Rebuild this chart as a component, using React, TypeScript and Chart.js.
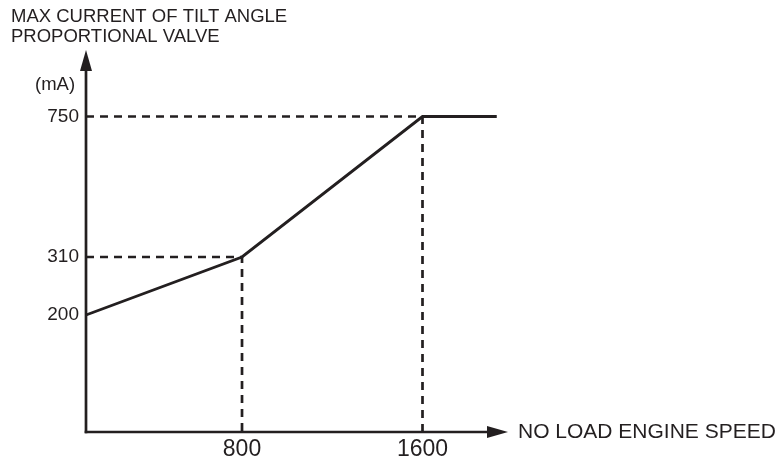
import React, { useEffect, useRef } from 'react';
import { Chart, registerables, LinearScale } from 'chart.js';

// ---- data ----
const speedPoints = [0, 800, 1600, 1930]; // no-load engine speed (rpm)
const currentPoints = [200, 310, 750, 750]; // max current (mA)
const xTickValues = [800, 1600];
const yTickValues = [200, 310, 750];
const guideCorners = [
  { speed: 800, current: 310 },
  { speed: 1600, current: 750 },
];
const titleLines = ['MAX CURRENT OF TILT ANGLE', 'PROPORTIONAL VALVE'];
const unitLabel = '(mA)';
const xAxisTitle = 'NO LOAD ENGINE SPEED';

// schematic (piecewise) axis mapping
const xBreakValues = [0, 800, 1600, 1980];
const xBreakFracs = [0, 0.3697, 0.7974, 1];
const yBreakValues = [0, 200, 310, 750, 960];
const yBreakFracs = [0, 0.3063, 0.4581, 0.8259, 1];

const INK = '#231f20';
const FONT = 'Liberation Sans, Arial, sans-serif';

function toDec(v: number, vals: number[], fracs: number[]) {
  for (let i = 0; i < vals.length - 1; i++) {
    if (v <= vals[i + 1] || i === vals.length - 2) {
      const t = (v - vals[i]) / (vals[i + 1] - vals[i]);
      return fracs[i] + t * (fracs[i + 1] - fracs[i]);
    }
  }
  return 0;
}
function fromDec(d: number, vals: number[], fracs: number[]) {
  for (let i = 0; i < fracs.length - 1; i++) {
    if (d <= fracs[i + 1] || i === fracs.length - 2) {
      const t = (d - fracs[i]) / (fracs[i + 1] - fracs[i]);
      return vals[i] + t * (vals[i + 1] - vals[i]);
    }
  }
  return 0;
}

class PiecewiseScale extends LinearScale {
  static id = 'piecewise';
  static defaults = LinearScale.defaults;
  getPixelForValue(value: number) {
    if (value === null || value === undefined) return NaN;
    const o: any = (this as any).options;
    return (this as any).getPixelForDecimal(toDec(value, o.bpValues, o.bpFracs));
  }
  getValueForPixel(pixel: number) {
    const o: any = (this as any).options;
    return fromDec((this as any).getDecimalForPixel(pixel), o.bpValues, o.bpFracs);
  }
}

Chart.register(...registerables, PiecewiseScale);

const axesPlugin = {
  id: 'schematicAxes',
  afterDatasetsDraw(chart: any) {
    const { ctx, chartArea } = chart;
    const { left, right, top, bottom } = chartArea;
    ctx.save();
    ctx.strokeStyle = INK;
    ctx.fillStyle = INK;
    ctx.lineWidth = 2.7;
    ctx.setLineDash([]);
    const headLen = 21;
    const headHalf = 6;
    // y axis
    ctx.beginPath();
    ctx.moveTo(left, bottom + 1.3);
    ctx.lineTo(left, top + headLen - 2);
    ctx.stroke();
    ctx.beginPath();
    ctx.moveTo(left, top);
    ctx.lineTo(left - headHalf, top + headLen);
    ctx.lineTo(left + headHalf, top + headLen);
    ctx.closePath();
    ctx.fill();
    // x axis
    ctx.beginPath();
    ctx.moveTo(left - 1.3, bottom);
    ctx.lineTo(right - headLen + 2, bottom);
    ctx.stroke();
    ctx.beginPath();
    ctx.moveTo(right, bottom);
    ctx.lineTo(right - headLen, bottom - headHalf);
    ctx.lineTo(right - headLen, bottom + headHalf);
    ctx.closePath();
    ctx.fill();
    // texts
    ctx.textBaseline = 'middle';
    ctx.textAlign = 'left';
    ctx.font = `18.5px ${FONT}`;
    ctx.fillText(titleLines[0], 11, 17);
    ctx.fillText(titleLines[1], 11, 37);
    ctx.fillText(unitLabel, 35, 85);
    ctx.font = `21px ${FONT}`;
    ctx.fillText(xAxisTitle, right + 10, bottom);
    ctx.restore();
  },
};

export default function App() {
  const ref = useRef<HTMLCanvasElement | null>(null);
  useEffect(() => {
    document.body.style.margin = '0';
    if (!ref.current) return;
    const mainData = speedPoints.map((s, i) => ({ x: s, y: currentPoints[i] }));
    const guideSets = guideCorners.map((g) => ({
      data: [
        { x: 0, y: g.current },
        { x: g.speed, y: g.current },
        { x: g.speed, y: 0 },
      ],
      borderColor: INK,
      borderWidth: 2.7,
      borderDash: [8, 6],
      pointRadius: 0,
      tension: 0,
      fill: false,
      clip: false as any,
    }));
    const chart = new Chart(ref.current, {
      type: 'line',
      data: {
        datasets: [
          {
            data: mainData,
            borderColor: INK,
            borderWidth: 2.9,
            pointRadius: 0,
            tension: 0,
            fill: false,
            clip: false as any,
          },
          ...guideSets,
        ],
      },
      options: {
        animation: false,
        responsive: false,
        devicePixelRatio: 1,
        layout: { padding: { left: 0, top: 50, right: 272, bottom: 0 } },
        plugins: { legend: { display: false }, tooltip: { enabled: false } },
        scales: {
          x: {
            type: 'piecewise' as any,
            min: xBreakValues[0],
            max: xBreakValues[xBreakValues.length - 1],
            bpValues: xBreakValues,
            bpFracs: xBreakFracs,
            grid: { display: false, drawTicks: false },
            border: { display: false },
            ticks: {
              padding: 4,
              color: INK,
              font: { family: FONT, size: 23 },
              maxRotation: 0,
              autoSkip: false,
              callback: (v: any) => String(v),
            },
            afterBuildTicks: (s: any) => {
              s.ticks = xTickValues.map((v) => ({ value: v }));
            },
            afterFit: (s: any) => {
              s.height = 33;
            },
          } as any,
          y: {
            type: 'piecewise' as any,
            min: yBreakValues[0],
            max: yBreakValues[yBreakValues.length - 1],
            bpValues: yBreakValues,
            bpFracs: yBreakFracs,
            grid: { display: false, drawTicks: false },
            border: { display: false },
            ticks: {
              padding: 7,
              color: INK,
              font: { family: FONT, size: 19 },
              autoSkip: false,
              callback: (v: any) => String(v),
            },
            afterBuildTicks: (s: any) => {
              s.ticks = yTickValues.map((v) => ({ value: v }));
            },
            afterFit: (s: any) => {
              s.width = 86;
            },
          } as any,
        },
      },
      plugins: [axesPlugin],
    });
    return () => chart.destroy();
  }, []);
  return (
    <div style={{ position: 'absolute', left: 0, top: 0, width: 780, height: 465, background: '#fff' }}>
      <canvas ref={ref} width={780} height={465} style={{ display: 'block' }} />
    </div>
  );
}
